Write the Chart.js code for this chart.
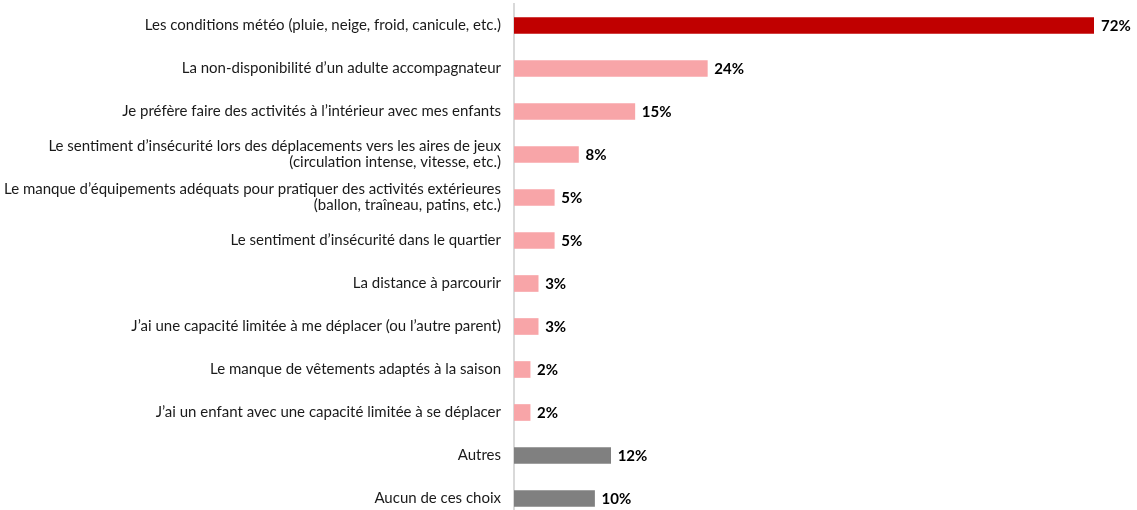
<!DOCTYPE html>
<html>
<head>
<meta charset="utf-8">
<script src="https://cdn.jsdelivr.net/npm/chart.js@4"></script>
<style>
html, body { margin: 0; padding: 0; background: #fff; overflow: hidden; }
#wrap { position: absolute; left: 0; top: 0; width: 1137px; height: 520px; }
</style>
</head>
<body>
<div id="wrap"><canvas id="chart"></canvas></div>
<script>
/* ==========================================
DATA
========================================== */

const labels = [
"Les conditions météo (pluie, neige, froid, canicule, etc.)",
"La non-disponibilité d’un adulte accompagnateur",
"Je préfère faire des activités à l’intérieur avec mes enfants",
["Le sentiment d’insécurité lors des déplacements vers les aires de jeux", "(circulation intense, vitesse, etc.)"],
["Le manque d’équipements adéquats pour pratiquer des activités extérieures", "(ballon, traîneau, patins, etc.)"],
"Le sentiment d’insécurité dans le quartier",
"La distance à parcourir",
"J’ai une capacité limitée à me déplacer (ou l’autre parent)",
"Le manque de vêtements adaptés à la saison",
"J’ai un enfant avec une capacité limitée à se déplacer",
"Autres",
"Aucun de ces choix"
];

const values = [72, 24, 15, 8, 5, 5, 3, 3, 2, 2, 12, 10];

const barColors = [
"#C00000",
"#F8A5A8", "#F8A5A8", "#F8A5A8", "#F8A5A8", "#F8A5A8",
"#F8A5A8", "#F8A5A8", "#F8A5A8", "#F8A5A8",
"#808080", "#808080"
];


/* ==========================================
VALUE LABELS
========================================== */

const valueLabels = {
id: "valueLabels",
afterDatasetsDraw(chart){
const ctx = chart.ctx;
const meta = chart.getDatasetMeta(0);
ctx.save();
ctx.font = "bold 15px Lato, 'Liberation Sans', sans-serif";
ctx.fillStyle = "#000";
ctx.textAlign = "left";
ctx.textBaseline = "middle";
meta.data.forEach((bar, i) => {
ctx.fillText(values[i] + "%", bar.x + 7, bar.y + 1);
});
ctx.restore();
}
};


/* ==========================================
CHART
========================================== */

new Chart(
document.getElementById("chart"),
{
type: "bar",
data: {
labels: labels,
datasets: [{
data: values,
backgroundColor: barColors,
barThickness: 16,
borderWidth: 0
}]
},
options: {
indexAxis: "y",
responsive: true,
maintainAspectRatio: false,
animation: false,
layout: {
padding: { top: 4, right: 43, bottom: 0, left: 0 }
},
plugins: {
legend: { display: false },
tooltip: { enabled: false }
},
scales: {
x: {
display: false,
min: 0,
max: 72
},
y: {
grid: { display: false },
border: { display: true, color: "#D9D9D9", width: 2 },
ticks: {
color: "#1a1a1a",
padding: 5,
font: { family: "Lato, 'Liberation Sans', sans-serif", size: 15, lineHeight: 1.05 }
},
afterFit(scale){
scale.width = 514;
scale.paddingTop = 0;
scale.paddingBottom = 0;
}
}
}
},
plugins: [valueLabels]
}
);
</script>
</body>
</html>
